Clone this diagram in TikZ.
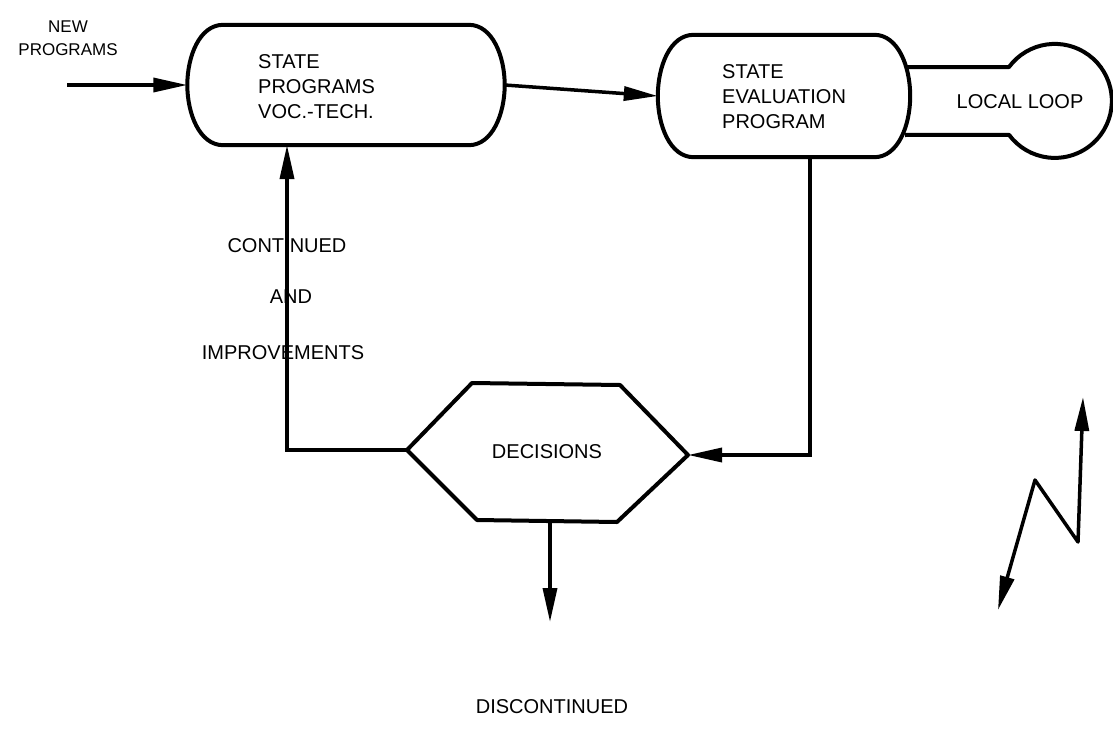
\documentclass[tikz,border=0pt]{standalone}
\usepackage{fontspec}
\setmainfont{Liberation Sans}
\usetikzlibrary{arrows.meta,positioning}

\begin{document}
\begin{tikzpicture}[x=1pt,y=-1pt]
    \tikzstyle{every node}+=[inner sep=0pt, font=\fontsize{20}{25}\selectfont]
    \tikzstyle{stadium}=[rectangle]
    \tikzstyle{outline}=[line width=4pt, line join=round]
    \tikzstyle{boxtext}=[anchor=west, align=left]
    \tikzstyle{flow}=[line width=3.5pt, -{Triangle[length=34pt,width=14pt]}]
    \useasboundingbox (0,0) rectangle (1113,728);
    \node [align=center, font=\fontsize{17}{23}\selectfont] (newlbl) at (68,38) {NEW\\PROGRAMS};
    \coordinate (newin) at (67,85);
    \node [stadium, minimum width=317pt, minimum height=120pt] (progs) at (346,85) {};
    \draw [outline] ([xshift=36pt]progs.north west) -- ([xshift=-36pt]progs.north east)
        .. controls ([xshift=-12pt]progs.north east) and ([yshift=-32pt]progs.north east) .. (progs.east)
        .. controls ([yshift=32pt]progs.south east) and ([xshift=-12pt]progs.south east) .. ([xshift=-36pt]progs.south east)
        -- ([xshift=36pt]progs.south west)
        .. controls ([xshift=12pt]progs.south west) and ([yshift=32pt]progs.south west) .. (progs.west)
        .. controls ([yshift=-32pt]progs.north west) and ([xshift=12pt]progs.north west) .. cycle;
    \node [boxtext] (progstxt) at (258,87) {STATE\\PROGRAMS\\VOC.-TECH.};
    \node [stadium, minimum width=252pt, minimum height=122pt] (evalp) at (784,96) {};
    \draw [outline] ([xshift=36pt]evalp.north west) -- ([xshift=-36pt]evalp.north east)
        .. controls ([xshift=-12pt]evalp.north east) and ([yshift=-32pt]evalp.north east) .. (evalp.east)
        .. controls ([yshift=32pt]evalp.south east) and ([xshift=-12pt]evalp.south east) .. ([xshift=-36pt]evalp.south east)
        -- ([xshift=36pt]evalp.south west)
        .. controls ([xshift=12pt]evalp.south west) and ([yshift=32pt]evalp.south west) .. (evalp.west)
        .. controls ([yshift=-32pt]evalp.north west) and ([xshift=12pt]evalp.north west) .. cycle;
    \node [boxtext] (evaltxt) at (722,97) {STATE\\EVALUATION\\PROGRAM};
    \coordinate (loopt) at (905,67);
    \coordinate (loopb) at (905,135);
    \draw [outline] (loopt) -- (1009,67) arc (-143.5:143.5:57) -- (loopb);
    \node (looplbl) at (1020,102) {LOCAL LOOP};
    \draw [flow] (newin) -- (progs.west);
    \draw [flow] (progs.east) -- (evalp.west);
    \coordinate (decw) at (407,450);
    \coordinate (dece) at (688,455);
    \coordinate (decs) at (550,521);
    \draw [outline] (decw) -- (472,383) -- (620,385) -- (dece) -- (617,522) -- (477,520) -- cycle;
    \node (dec) at (547,452) {DECISIONS};
    \coordinate (evalb) at (810,157);
    \coordinate (progsb) at (287,145);
    \draw [flow] (evalb) |- (dece);
    \draw [flow] (decw) -| (progsb);
    \node (contlbl) at (287,246) {CONTINUED};
    \node (andlbl) at (291,297) {AND};
    \node (implbl) at (283,353) {IMPROVEMENTS};
    \coordinate (discend) at (550,622);
    \draw [flow] (decs) -- (discend);
    \node (disclbl) at (552,707) {DISCONTINUED};
    \coordinate (zz1) at (1083,397);
    \coordinate (zz2) at (1078,542);
    \coordinate (zz3) at (1035,480);
    \coordinate (zz4) at (998,610);
    \draw [line width=3.5pt, line join=round, {Triangle[length=34pt,width=14pt]}-{Triangle[length=34pt,width=14pt]}] (zz1) -- (zz2) -- (zz3) -- (zz4);
\end{tikzpicture}
\end{document}
